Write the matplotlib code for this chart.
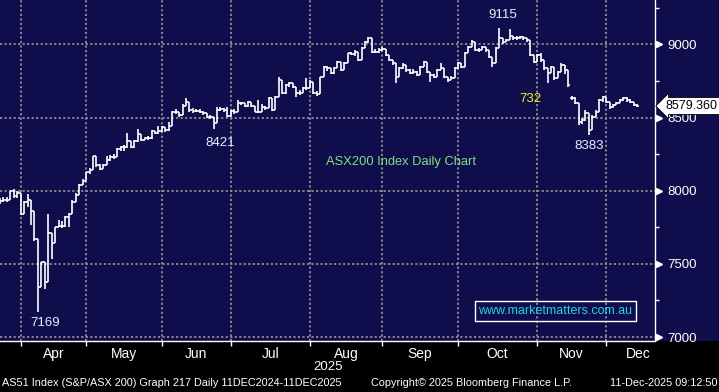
import matplotlib
matplotlib.use('Agg')
import matplotlib.pyplot as plt
from matplotlib.collections import LineCollection
from matplotlib.patches import Rectangle
import numpy as np

plt.rcParams['font.family'] = ['Liberation Sans', 'DejaVu Sans']

# ---------------------------------------------------------------
# S&P/ASX 200 daily bars, 21-Mar-2025 .. 11-Dec-2025 (one entry per trading day)
# ---------------------------------------------------------------
opn = [7945, 7930, 7940, 7940, 7995, 7965, 7982,
       7843, 7925, 7934, 7859, 7667, 7343, 7510, 7375, 7710, 7646, 7750, 7762, 7758, 7819, 7843, 7920, 7968, 8040, 8070,
       8126, 8145, 8238, 8178, 8150, 8177, 8209, 8231, 8234, 8283, 8297, 8297, 8343, 8296, 8343, 8387, 8348, 8360, 8361, 8408, 8396, 8409,
       8434, 8414, 8443, 8541, 8539, 8515, 8580, 8604, 8550, 8547, 8548, 8540, 8531, 8505, 8505, 8462, 8555, 8559, 8550, 8514,
       8542, 8541, 8598, 8598, 8580, 8610, 8580, 8541, 8541, 8575, 8564, 8632, 8553, 8644, 8757, 8667, 8723, 8734, 8712, 8667, 8667, 8700, 8700,
       8746, 8667, 8663, 8776, 8843, 8838, 8807, 8836, 8881, 8827, 8873, 8939, 8938, 8951, 8894, 8974, 9019, 9042, 8951, 8951, 8962,
       8967, 8928, 8894, 8871, 8780, 8837, 8860, 8826, 8803, 8815, 8792, 8848, 8883, 8814, 8792, 8780, 8826, 8837, 8780, 8758, 8769, 8840,
       8870, 8848, 8940, 8985, 9019, 8962, 8962, 8985, 8962, 8917, 8870, 8974, 9042, 9019, 9031, 9060, 9042, 9042, 9053, 9042, 9031, 8928, 8883,
       8928, 8894, 8837, 8803, 8848, 8769, 8814, 8860, 8826, 8635, 8633, 8600, 8470, 8484, 8530, 8416, 8507, 8541, 8621, 8644,
       8610, 8575, 8587, 8598, 8621, 8633, 8621, 8610, 8587]
high = [7950, 7955, 7960, 8000, 8010, 7995, 7982,
        7930, 7977, 7933, 7859, 7667, 7515, 7510, 7840, 7710, 7755, 7801, 7790, 7825, 7850, 7935, 7985, 8045, 8080, 8130,
        8155, 8240, 8238, 8180, 8185, 8235, 8245, 8250, 8290, 8305, 8310, 8395, 8343, 8350, 8421, 8387, 8370, 8375, 8415, 8410, 8440, 8445,
        8434, 8470, 8545, 8560, 8540, 8590, 8633, 8604, 8565, 8560, 8560, 8545, 8531, 8520, 8505, 8570, 8575, 8565, 8570, 8550,
        8560, 8620, 8610, 8603, 8615, 8610, 8580, 8620, 8590, 8580, 8640, 8632, 8650, 8780, 8757, 8730, 8745, 8740, 8712, 8690, 8710, 8770, 8755,
        8746, 8680, 8780, 8850, 8850, 8838, 8845, 8890, 8881, 8880, 8945, 8950, 8960, 8951, 8980, 9025, 9053, 9042, 8970, 8975, 8985,
        8967, 8930, 8894, 8871, 8845, 8871, 8860, 8830, 8830, 8820, 8855, 8890, 8883, 8814, 8800, 8835, 8871, 8837, 8780, 8785, 8848, 8880,
        8875, 8951, 8990, 9030, 9019, 8974, 8990, 8985, 8962, 8917, 8980, 9115, 9042, 9040, 9105, 9060, 9055, 9060, 9058, 9045, 9031, 8930, 8935,
        8940, 8894, 8837, 8855, 8848, 8820, 8871, 8860, 8826, 8645, 8640, 8600, 8500, 8553, 8530, 8520, 8553, 8630, 8650, 8644,
        8610, 8595, 8605, 8625, 8640, 8640, 8625, 8610, 8590]
low = [7910, 7920, 7925, 7935, 7950, 7950, 7835,
       7843, 7892, 7767, 7655, 7169, 7343, 7330, 7375, 7532, 7646, 7750, 7745, 7755, 7752, 7843, 7920, 7968, 8040, 8070,
       8115, 8145, 8165, 8140, 8150, 8177, 8205, 8220, 8234, 8270, 8275, 8293, 8290, 8290, 8330, 8340, 8345, 8350, 8355, 8385, 8390, 8400,
       8400, 8410, 8443, 8525, 8505, 8515, 8580, 8540, 8530, 8535, 8530, 8520, 8495, 8490, 8421, 8462, 8545, 8540, 8505, 8505,
       8525, 8541, 8585, 8570, 8575, 8570, 8535, 8530, 8541, 8555, 8564, 8545, 8553, 8644, 8660, 8660, 8710, 8700, 8640, 8655, 8665, 8690, 8700,
       8660, 8650, 8663, 8776, 8820, 8795, 8800, 8836, 8820, 8827, 8873, 8925, 8920, 8885, 8894, 8974, 9010, 8940, 8940, 8945, 8955,
       8920, 8885, 8860, 8735, 8780, 8830, 8815, 8795, 8800, 8785, 8792, 8845, 8805, 8746, 8770, 8780, 8826, 8770, 8746, 8755, 8769, 8835,
       8840, 8848, 8940, 8985, 8955, 8950, 8962, 8950, 8905, 8848, 8870, 8974, 9005, 9015, 9031, 9030, 9030, 9035, 9030, 9020, 8920, 8875, 8883,
       8880, 8825, 8735, 8803, 8760, 8769, 8810, 8800, 8712, 8620, 8590, 8450, 8455, 8480, 8383, 8416, 8505, 8541, 8610, 8600,
       8560, 8564, 8585, 8598, 8615, 8610, 8600, 8580, 8570]
close = [7930, 7940, 7935, 7995, 7965, 7982, 7843,
         7925, 7934, 7859, 7667, 7343, 7510, 7375, 7710, 7646, 7750, 7762, 7758, 7819, 7843, 7920, 7968, 8040, 8070, 8126,
         8145, 8238, 8178, 8150, 8177, 8209, 8231, 8234, 8283, 8297, 8297, 8343, 8296, 8343, 8387, 8348, 8360, 8361, 8408, 8396, 8409, 8434,
         8414, 8443, 8541, 8539, 8515, 8580, 8604, 8550, 8547, 8548, 8540, 8531, 8505, 8505, 8462, 8555, 8559, 8550, 8514, 8542,
         8541, 8598, 8598, 8580, 8610, 8580, 8541, 8541, 8575, 8564, 8632, 8553, 8644, 8757, 8667, 8723, 8734, 8712, 8667, 8667, 8700, 8700, 8746,
         8667, 8663, 8776, 8843, 8838, 8807, 8836, 8881, 8827, 8873, 8939, 8938, 8951, 8894, 8974, 9019, 9042, 8951, 8951, 8962, 8967,
         8928, 8894, 8871, 8780, 8837, 8860, 8826, 8803, 8815, 8792, 8848, 8883, 8814, 8792, 8780, 8826, 8837, 8780, 8758, 8769, 8840, 8870,
         8848, 8940, 8985, 9019, 8962, 8962, 8985, 8962, 8917, 8870, 8974, 9042, 9019, 9031, 9060, 9042, 9042, 9053, 9042, 9031, 8928, 8883, 8928,
         8894, 8837, 8803, 8848, 8769, 8814, 8860, 8826, 8720, 8633, 8600, 8470, 8484, 8530, 8416, 8507, 8541, 8621, 8644, 8610,
         8575, 8587, 8598, 8621, 8633, 8621, 8610, 8587, 8579.36]

months = ['Apr', 'May', 'Jun', 'Jul', 'Aug', 'Sep', 'Oct', 'Nov', 'Dec']
month_grid = [6, 25, 47, 67, 90, 111, 133, 156, 176]          # bar index of each month boundary
month_lbl = [15.5, 36, 57, 78.5, 100.5, 122, 144.5, 166, 185.3]
y_major = [7000, 7500, 8000, 8500, 9000]
y_minor = [7250, 7750, 8250, 8750, 9250]

# chart notes: (text, bar index, value, colour)
notes = [('7169', 13.2, 7099, '#e6f0ff'), ('8421', 64.0, 8326, '#e6f0ff'),
         ('9115', 146.1, 9202, '#e6f0ff'), ('8383', 171.1, 8303, '#e6f0ff'),
         ('732', 154.1, 8627, '#f0f020')]

NAVY = '#0f0d4b'
W, H = 719, 392
fig = plt.figure(figsize=(W / 100, H / 100), dpi=100, facecolor='black')
fig.patches.append(Rectangle((655 / W, 51 / H), 64 / W, 341 / H, transform=fig.transFigure,
                             facecolor=NAVY, edgecolor='none', zorder=-5))
ax = fig.add_axes([0, 51 / H, 655 / W, 341 / H], facecolor=NAVY)

# OHLC bars: vertical high-low, open tick left, close tick right
segs = []
for i in range(len(close)):
    lo = min(low[i], opn[i], close[i])
    hi = max(high[i], opn[i], close[i])
    segs.append([(i, lo), (i, hi)])
    segs.append([(i - 0.5, opn[i]), (i, opn[i])])
    segs.append([(i, close[i]), (i + 0.5, close[i])])
ax.add_collection(LineCollection(segs, colors='white', linewidths=1.2, zorder=3))

ax.set_xlim(0, 190.2)
ax.set_ylim(6973, 9304)

ax.set_xticks(month_grid)
ax.set_xticklabels([])
ax.set_xticks(month_lbl, minor=True)
ax.set_xticklabels(months, minor=True)
ax.set_yticks(y_major)
ax.set_yticks(y_minor, minor=True)
ax.yaxis.tick_right()
ax.grid(True, which='major', color='#8f8f8f', linestyle=(0, (1.2, 1.3)), linewidth=1.3)

ax.tick_params(axis='x', which='major', length=3.5, width=1, color='white', direction='out')
ax.tick_params(axis='x', which='minor', length=0, pad=4, labelcolor='white', labelsize=10)
ax.tick_params(axis='y', which='major', length=0, pad=9, labelcolor='white', labelsize=9.5)
ax.tick_params(axis='y', which='minor', length=3, width=1, color='white', direction='out')

for s in ['left', 'top']:
    ax.spines[s].set_visible(False)
for s in ['right', 'bottom']:
    ax.spines[s].set_color('white')
    ax.spines[s].set_linewidth(1)

# little arrow heads at the price labels
ax.plot(np.full(len(y_major), 1 + 4 / 655), y_major, marker='>', ls='none', color='white',
        ms=5, transform=ax.get_yaxis_transform(), clip_on=False)

for txt, xi, yv, col in notes:
    ax.text(xi, yv, txt, color=col, fontsize=9.5, ha='center', va='center', zorder=4)
ax.text(116.5, 8197, 'ASX200 Index Daily Chart', color='#80e080', fontsize=9.3,
        ha='center', va='center', zorder=4)
ax.text(555.5 / 655, 1 - 311 / 341, 'www.marketmatters.com.au', transform=ax.transAxes,
        color='#22d3e6', fontsize=9, ha='center', va='center', zorder=4,
        bbox=dict(boxstyle='square,pad=0.3', fc='none', ec='white', lw=1))

# last price tag
ax.text(1 + 10 / 655, close[-1], '%.3f' % close[-1], transform=ax.get_yaxis_transform(),
        color='black', fontsize=9, ha='left', va='center', zorder=6, clip_on=False,
        bbox=dict(boxstyle='larrow,pad=0.2', fc='white', ec='black', lw=0.6))

fig.text(328 / W, 1 - 367 / H, '2025', color='white', fontsize=9.5, ha='center', va='center')
fig.text(2 / W, 1 - 383 / H, 'AS51 Index (S&P/ASX 200) Graph 217 Daily 11DEC2024-11DEC2025',
         color='white', fontsize=7.8, ha='left', va='center')
fig.text(371 / W, 1 - 383 / H, 'Copyright\u00a9 2025 Bloomberg Finance L.P.',
         color='white', fontsize=7.8, ha='left', va='center')
fig.text(718 / W, 1 - 383 / H, '11-Dec-2025 09:12:50', color='white', fontsize=7.8,
         ha='right', va='center')

plt.savefig('out.png', dpi=100, facecolor='black')
